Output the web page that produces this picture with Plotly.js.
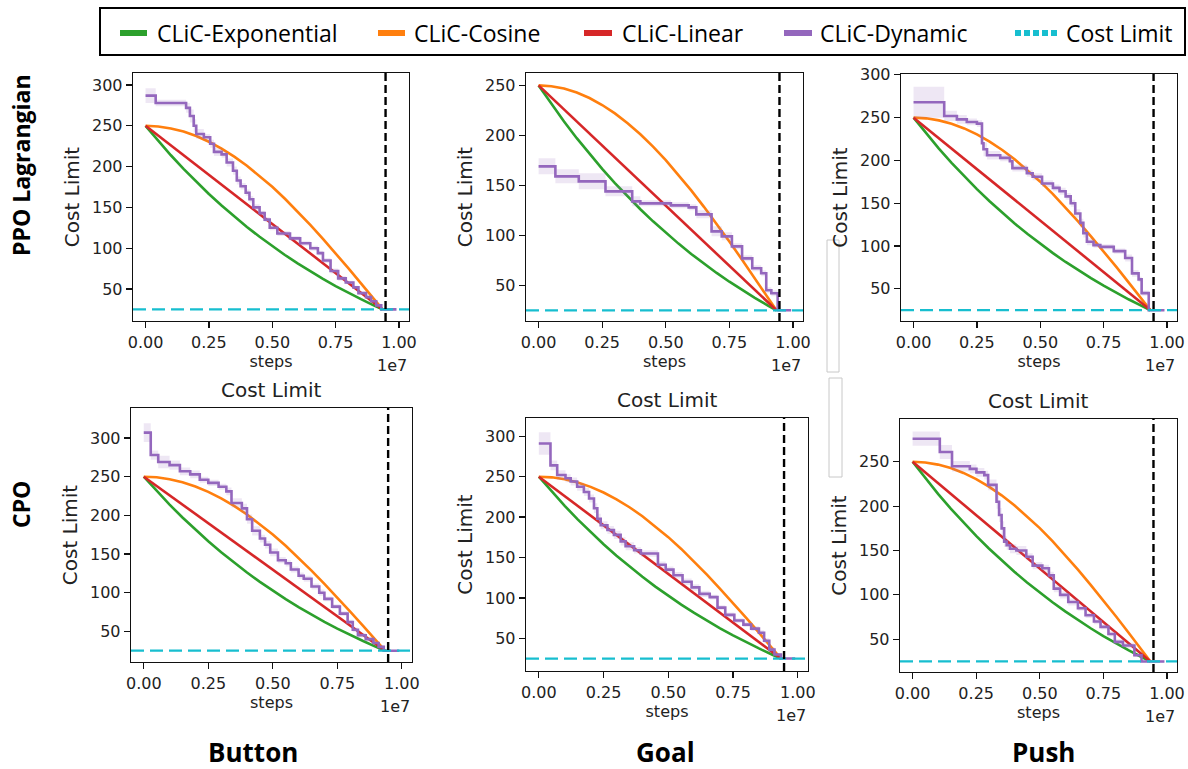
<!DOCTYPE html>
<html><head><meta charset="utf-8">
<script src="https://cdn.plot.ly/plotly-3.0.1.min.js"></script>
<style>html,body{margin:0;padding:0;background:#fff}#chart{width:1188px;height:769px}</style>
</head><body><div id="chart"></div>
<script>
// ---------- data (x in units of 1e7 steps) ----------
const seriesNames = ['CLiC-Exponential', 'CLiC-Cosine', 'CLiC-Linear', 'CLiC-Dynamic', 'Cost Limit'];
const seriesColors = ['#2ca02c', '#ff7f0e', '#d62728', '#9467bd', '#17becf'];
const algorithms = ['PPO Lagrangian', 'CPO'];
const tasks = ['Button', 'Goal', 'Push'];
const costLimit = 25;
const curriculumEnd = 0.947;

const smoothX = [0, 0.05, 0.1, 0.15, 0.2, 0.25, 0.3, 0.35, 0.4, 0.45, 0.5, 0.55, 0.6, 0.65, 0.7, 0.75, 0.8, 0.85, 0.9, 0.935];
const expoY   = [250, 231.5, 213.9, 197.2, 181.5, 166.5, 152.3, 138.9, 126.1, 114.0, 102.6, 91.7, 81.4, 71.7, 62.4, 53.6, 45.3, 37.5, 30.0, 25];
const cosineY = [250, 249.2, 246.8, 242.9, 237.4, 230.4, 222.0, 212.2, 201.1, 188.7, 175.2, 160.6, 145.0, 128.5, 111.3, 93.8, 75.6, 57.0, 38.2, 25];
const linearY = [250, 238.0, 225.9, 213.9, 201.9, 189.8, 177.8, 165.8, 153.7, 141.7, 129.7, 117.6, 105.6, 93.6, 81.6, 69.5, 57.5, 45.5, 33.4, 25];

// CLiC-Dynamic step curves (x, mean, band half-width)
const dynButtonPPO_x = [0, 0.04, 0.16, 0.175, 0.19, 0.20, 0.23, 0.255, 0.27, 0.30, 0.32, 0.345, 0.36, 0.375, 0.395, 0.41, 0.425, 0.45, 0.47, 0.49, 0.52, 0.57, 0.61, 0.65, 0.68, 0.70, 0.73, 0.76, 0.79, 0.82, 0.84, 0.87, 0.89, 0.91, 0.93, 0.99];
const dynButtonPPO_y = [287, 278, 272, 262, 250, 240, 236, 228, 218, 215, 205, 195, 183, 176, 168, 160, 150, 143, 135, 125, 118, 112, 106, 100, 94, 85, 72, 63, 58, 52, 45, 40, 35, 30, 25, 25];
const dynButtonPPO_b = [9, 4, 6, 8, 8, 6, 4, 5, 5, 4, 5, 5, 5, 4, 4, 4, 4, 3, 3, 3, 3, 3, 3, 3, 3, 3, 3, 3, 2, 2, 2, 2, 2, 2, 1, 1];

const dynGoalPPO_x = [0, 0.066, 0.158, 0.263, 0.368, 0.40, 0.52, 0.59, 0.62, 0.68, 0.72, 0.76, 0.80, 0.84, 0.875, 0.895, 0.915, 0.94, 0.993];
const dynGoalPPO_y = [169, 159, 154, 144, 134, 132, 130, 128, 121, 104, 99, 89, 77, 67, 62, 45, 42, 25, 25];
const dynGoalPPO_b = [8, 7, 8, 5, 5, 3, 3, 3, 4, 5, 4, 3, 3, 3, 3, 3, 3, 1, 1];

const dynPushPPO_x = [0, 0.121, 0.171, 0.21, 0.25, 0.27, 0.276, 0.29, 0.342, 0.38, 0.39, 0.447, 0.47, 0.507, 0.55, 0.576, 0.60, 0.62, 0.638, 0.658, 0.67, 0.684, 0.71, 0.737, 0.79, 0.835, 0.862, 0.888, 0.90, 0.928, 0.99];
const dynPushPPO_y = [268, 252, 248, 245, 243, 220, 213, 206, 203, 199, 191, 185, 181, 173, 168, 164, 158, 150, 138, 127, 115, 105, 101, 99, 94, 86, 68, 61, 45, 25, 25];
const dynPushPPO_b = [18, 6, 5, 4, 4, 8, 8, 5, 4, 4, 4, 4, 4, 4, 4, 4, 4, 4, 5, 5, 5, 4, 3, 3, 3, 4, 4, 3, 3, 1, 1];

const dynButtonCPO_x = [0, 0.027, 0.056, 0.10, 0.14, 0.18, 0.217, 0.25, 0.29, 0.32, 0.34, 0.38, 0.40, 0.42, 0.45, 0.47, 0.49, 0.52, 0.55, 0.57, 0.60, 0.62, 0.65, 0.68, 0.70, 0.73, 0.76, 0.79, 0.81, 0.83, 0.86, 0.89, 0.91, 0.93, 0.99];
const dynButtonCPO_y = [307, 278, 269, 265, 257, 253, 246, 242, 237, 231, 216, 209, 195, 180, 170, 162, 152, 142, 138, 130, 122, 118, 108, 100, 92, 82, 73, 62, 52, 45, 40, 35, 30, 25, 25];
const dynButtonCPO_b = [12, 6, 8, 6, 5, 5, 4, 4, 4, 5, 6, 6, 6, 6, 5, 5, 5, 4, 4, 4, 4, 4, 4, 4, 3, 3, 3, 3, 3, 3, 3, 2, 2, 1, 1];

const dynGoalCPO_x = [0, 0.045, 0.071, 0.103, 0.123, 0.148, 0.174, 0.194, 0.213, 0.226, 0.239, 0.265, 0.29, 0.316, 0.335, 0.368, 0.394, 0.46, 0.49, 0.52, 0.555, 0.59, 0.62, 0.66, 0.69, 0.72, 0.755, 0.79, 0.82, 0.85, 0.87, 0.89, 0.91, 0.935, 0.99];
const dynGoalCPO_y = [291, 264, 252, 248, 244, 237.5, 231, 223, 211, 198, 190, 184, 178, 170, 164, 159, 155, 141, 135, 128, 120, 113, 105, 101, 88, 79, 72, 67, 62, 57, 47, 36, 30, 25, 25];
const dynGoalCPO_b = [14, 6, 6, 5, 5, 5, 5, 5, 6, 6, 5, 5, 5, 5, 5, 4, 4, 4, 4, 4, 4, 4, 4, 3, 3, 3, 3, 3, 3, 3, 3, 3, 2, 1, 1];

const dynPushCPO_x = [0, 0.107, 0.155, 0.225, 0.251, 0.282, 0.297, 0.33, 0.34, 0.35, 0.36, 0.37, 0.383, 0.408, 0.447, 0.472, 0.51, 0.536, 0.555, 0.58, 0.612, 0.65, 0.68, 0.713, 0.739, 0.77, 0.795, 0.827, 0.872, 0.9, 0.99];
const dynPushCPO_y = [276, 261, 245, 242, 238, 235, 224, 205, 190, 175, 160, 156, 152, 150, 143, 133, 130, 122, 107, 100, 92, 85, 77, 70, 64, 56, 47, 43, 32, 25, 25];
const dynPushCPO_b = [8, 8, 6, 5, 5, 5, 6, 8, 8, 8, 6, 5, 5, 5, 4, 4, 4, 4, 4, 4, 4, 3, 3, 3, 3, 3, 3, 3, 2, 1, 1];

const xTickVals = [0, 0.25, 0.5, 0.75, 1.0];
const xTickText = ['0.00', '0.25', '0.50', '0.75', '1.00'];

// ---------- layout helpers ----------
const W = 1188, H = 769;
const panels = [
  {dx: dynButtonPPO_x, dy: dynButtonPPO_y, db: dynButtonPPO_b, box: [133, 409, 73, 321], yr: [10.8, 314.7], title: false},
  {dx: dynGoalPPO_x,   dy: dynGoalPPO_y,   db: dynGoalPPO_b,   box: [526, 803, 73, 321], yr: [14.3, 262.4], title: false},
  {dx: dynPushPPO_x,   dy: dynPushPPO_y,   db: dynPushPPO_b,   box: [901, 1177, 74, 321], yr: [12.4, 301], title: false},
  {dx: dynButtonCPO_x, dy: dynButtonCPO_y, db: dynButtonCPO_b, box: [131, 412, 408, 662], yr: [10.4, 338.8], title: true},
  {dx: dynGoalCPO_x,   dy: dynGoalCPO_y,   db: dynGoalCPO_b,   box: [526, 808, 418, 671], yr: [9.6, 322.6], title: true},
  {dx: dynPushCPO_x,   dy: dynPushCPO_y,   db: dynPushCPO_b,   box: [900, 1177, 419, 672], yr: [13.1, 298.2], title: true}
];

const AX_FONT = 'DejaVu Sans, sans-serif';
const TXT = '#222';
const traces = [];
const layout = {
  width: W, height: H, margin: {l: 0, r: 0, t: 0, b: 0},
  paper_bgcolor: '#ffffff', plot_bgcolor: '#ffffff', showlegend: false,
  font: {family: AX_FONT, color: TXT},
  shapes: [], annotations: []
};

panels.forEach((p, i) => {
  const n = i + 1, sfx = n === 1 ? '' : String(n);
  const xa = 'x' + sfx, ya = 'y' + sfx;
  const b = p.box;
  layout['xaxis' + sfx] = {
    domain: [b[0] / W, b[1] / W], anchor: ya, range: [-0.0495, 1.0395],
    tickmode: 'array', tickvals: xTickVals, ticktext: xTickText, ticklabeloverflow: 'allow',
    ticks: 'outside', ticklen: 6, tickwidth: 1.2, tickcolor: '#111',
    showline: true, mirror: true, linecolor: '#111', linewidth: 1.3,
    showgrid: false, zeroline: false,
    tickfont: {family: AX_FONT, size: 16, color: TXT},
    title: {text: 'steps', font: {family: AX_FONT, size: 16, color: TXT}, standoff: 5}
  };
  layout['yaxis' + sfx] = {
    domain: [1 - b[3] / H, 1 - b[2] / H], anchor: xa, range: p.yr,
    tick0: 0, dtick: 50, ticklabeloverflow: 'allow',
    ticks: 'outside', ticklen: 6, tickwidth: 1.2, tickcolor: '#111',
    showline: true, mirror: true, linecolor: '#111', linewidth: 1.3,
    showgrid: false, zeroline: false,
    tickfont: {family: AX_FONT, size: 16, color: TXT},
    title: {text: 'Cost Limit', font: {family: AX_FONT, size: 20, color: TXT}, standoff: 7}
  };

  // smooth schedules
  const smooth = [[expoY, 0], [cosineY, 1], [linearY, 2]];
  smooth.forEach(([ys, k]) => {
    traces.push({x: smoothX, y: ys, xaxis: xa, yaxis: ya, type: 'scatter', mode: 'lines',
      name: seriesNames[k], line: {color: seriesColors[k], width: 2.6}, hoverinfo: 'skip'});
  });
  // dynamic band
  const lo = p.dy.map((v, j) => v - p.db[j]);
  const hi = p.dy.map((v, j) => v + p.db[j]);
  traces.push({x: p.dx, y: lo, xaxis: xa, yaxis: ya, type: 'scatter', mode: 'lines',
    line: {width: 0, shape: 'hv'}, hoverinfo: 'skip'});
  traces.push({x: p.dx, y: hi, xaxis: xa, yaxis: ya, type: 'scatter', mode: 'lines',
    line: {width: 0, shape: 'hv'}, fill: 'tonexty', fillcolor: 'rgba(148,103,189,0.16)', hoverinfo: 'skip'});
  // dynamic mean
  traces.push({x: p.dx, y: p.dy, xaxis: xa, yaxis: ya, type: 'scatter', mode: 'lines',
    name: seriesNames[3], line: {color: seriesColors[3], width: 2.6, shape: 'hv'}});

  // cost-limit horizontal and curriculum-end vertical lines
  layout.shapes.push({type: 'line', xref: xa + ' domain', yref: ya, x0: 0, x1: 1, y0: costLimit, y1: costLimit,
    line: {color: seriesColors[4], width: 2.2, dash: '13px,6px'}});
  layout.shapes.push({type: 'line', xref: xa, yref: ya + ' domain', x0: curriculumEnd, x1: curriculumEnd, y0: 0, y1: 1,
    line: {color: '#000', width: 2.4, dash: '8px,4px'}});

  // offset text
  layout.annotations.push({xref: xa + ' domain', yref: ya + ' domain', x: 1, y: 0, xanchor: 'right', yanchor: 'top',
    yshift: -33, xshift: 0, showarrow: false, text: '1e7', font: {family: AX_FONT, size: 16, color: TXT}});
  if (p.title) {
    layout.annotations.push({xref: xa + ' domain', yref: ya + ' domain', x: 0.5, y: 1, xanchor: 'center', yanchor: 'bottom',
      yshift: 4, showarrow: false, text: 'Cost Limit', font: {family: AX_FONT, size: 20, color: TXT}});
  }
});

// ---------- manual legend ----------
const LF = 'Open Sans, Noto Sans, sans-serif';
layout.shapes.push({type: 'rect', xref: 'paper', yref: 'paper', x0: 100 / W, x1: 1185 / W, y0: 1 - 55 / H, y1: 1 - 8 / H,
  line: {color: '#000', width: 2}, fillcolor: 'rgba(0,0,0,0)'});
const legSwatch = [[120, 147], [378, 405], [584, 612], [784, 812], [1015, 1057]];
const legText = [155, 412, 620, 818, 1064];
for (let k = 0; k < 5; k++) {
  const yc = 1 - 33 / H;
  layout.shapes.push({type: 'line', xref: 'paper', yref: 'paper', x0: legSwatch[k][0] / W, x1: legSwatch[k][1] / W, y0: yc, y1: yc,
    line: {color: seriesColors[k], width: 6, dash: k === 4 ? '6px,3px' : 'solid'}});
  layout.annotations.push({xref: 'paper', yref: 'paper', x: legText[k] / W, y: yc, xanchor: 'left', yanchor: 'middle',
    showarrow: false, text: seriesNames[k], font: {family: LF, size: 23, color: '#000'}});
}

// ---------- row / column labels ----------
const rowY = [165, 505];
algorithms.forEach((a, k) => {
  layout.annotations.push({xref: 'paper', yref: 'paper', x: 21 / W, y: 1 - rowY[k] / H, textangle: -90,
    xanchor: 'center', yanchor: 'middle', showarrow: false, text: '<b>' + a + '</b>',
    font: {family: LF, size: 23, color: '#000'}});
});
const colX = [253, 665, 1043];
tasks.forEach((t, k) => {
  layout.annotations.push({xref: 'paper', yref: 'paper', x: colX[k] / W, y: 1 - 752 / H,
    xanchor: 'center', yanchor: 'middle', showarrow: false, text: '<b>' + t + '</b>',
    font: {family: LF, size: 26, color: '#000'}});
});

// thin grey artefact boxes between columns
layout.shapes.push({type: 'rect', xref: 'paper', yref: 'paper', x0: 827 / W, x1: 839 / W, y0: 1 - 372 / H, y1: 1 - 240 / H,
  line: {color: '#c8c8c8', width: 1}});
layout.shapes.push({type: 'rect', xref: 'paper', yref: 'paper', x0: 829 / W, x1: 842 / W, y0: 1 - 477 / H, y1: 1 - 378 / H,
  line: {color: '#c8c8c8', width: 1}});

Plotly.newPlot('chart', traces, layout, {staticPlot: true, displayModeBar: false});
</script>
</body></html>
